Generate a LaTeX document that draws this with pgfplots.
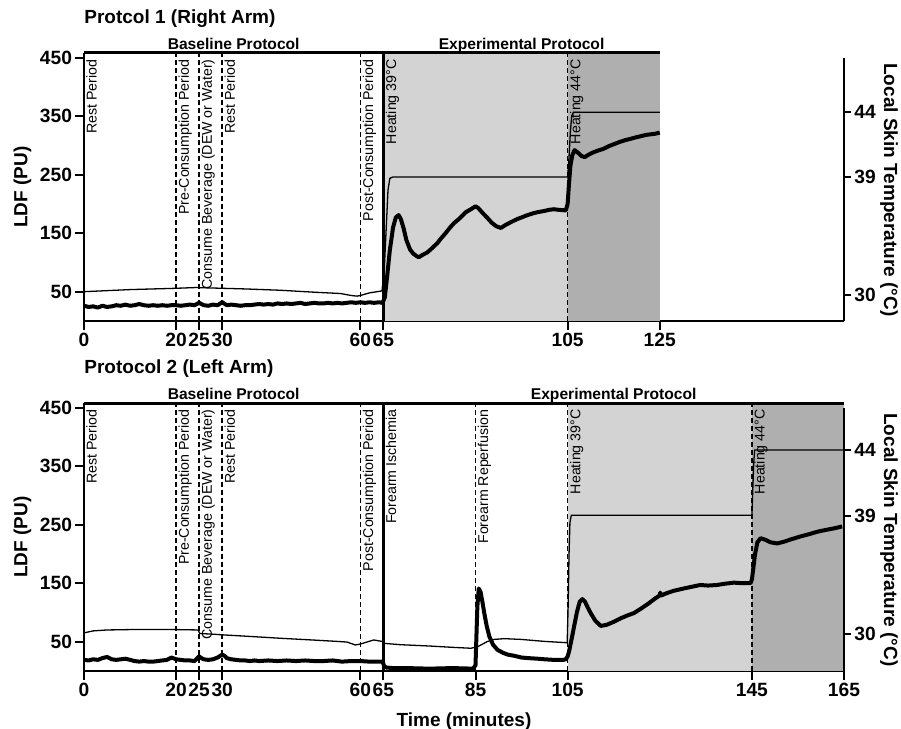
\documentclass[border=0pt]{standalone}
\usepackage{fontspec}
\setmainfont{Liberation Sans}
\usepackage{pgfplots}
\pgfplotsset{compat=1.18}
\definecolor{shadeA}{HTML}{D3D3D3}
\definecolor{shadeB}{HTML}{AFAFAF}

\pgfplotsset{
  ldfaxis/.style={
    scale only axis, width=380pt, height=134pt, anchor=south west,
    xmin=0, xmax=165, ymin=0, ymax=458,
    axis x line*=bottom, axis y line*=left,
    axis line style={-, line width=1pt},
    tick align=outside, major tick length=4.3pt,
    tick style={line width=1pt, black},
    ytick={50,150,250,350,450},
    ticklabel style={font=\fontsize{9.6}{11}\selectfont\bfseries, inner sep=1.5pt},
    /pgf/number format/assume math mode=true,
    clip=false,
  },
  tempaxis/.style={
    scale only axis, width=380pt, height=131.5pt, anchor=south west,
    xmin=0, xmax=165,
    axis x line=none, axis y line*=right,
    axis line style={-, line width=1pt},
    tick align=outside, major tick length=3.5pt,
    tick style={line width=1pt, black},
    ytick={30,39,44},
    ticklabel style={font=\fontsize{9.6}{11}\selectfont\bfseries, inner sep=1.5pt},
    /pgf/number format/assume math mode=true,
  },
}
\tikzset{
  ldfline/.style={line width=2pt, black, line join=round},
  templine/.style={line width=0.65pt, black},
  evline/.style={line width=0.7pt, dash pattern=on 2.5pt off 1.5pt},
  evlabel/.style={rotate=90, anchor=north east, inner sep=1pt, font=\fontsize{7.1}{8}\selectfont},
  seclabel/.style={anchor=base, inner sep=0pt, yshift=1.6pt, font=\fontsize{7.8}{9}\selectfont\bfseries},
}

\pgfplotstableread{
t ldf
0 26
1 24
2 25
3 23
4 26
5 24
6 25
7 27
8 26
9 28
10 26
11 27
12 29
13 27
14 26
15 27
16 26
17 27
18 26
19 27
20 27
21 26
22 27
23 28
24 27
25 31
26 27
27 26
28 28
29 27
30 32
31 27
32 28
33 27
34 26
35 27
36 27
37 28
38 29
39 28
40 29
41 28
42 30
43 29
44 30
45 29
46 30
47 31
48 29
49 30
50 31
51 30
52 30
53 31
54 30
55 31
56 30
57 31
58 32
59 31
60 32
61 31
62 32
63 31
64 32
64.8 31
65.3 40
65.8 75
66.4 121
67.1 160
67.7 177
68.3 181
68.8 174
69.4 158
70 138
70.8 122
71.5 115
72.2 111
72.7 109
73.5 113
74.5 117
75.5 124
76.7 133
77.5 141
78.5 150
79.5 160
80.3 167
81.5 175
82.9 186
84 191
85 196
85.6 193
86.5 185
87.6 176
88.5 168
89.5 162
90.5 159
91.5 164
92.7 169
94 174
95 177
96.3 181
97.5 184
98.5 186
99.9 188
101 190
102 191
103 190
104.6 189
105 200
105.3 235
105.6 265
106 283
106.5 292
107.2 288
108 282
108.7 280
109.5 284
110.5 288
111.5 291
112.7 294
114 299
115 302
116.3 306
117.5 309
118.5 311
119.9 314
121 316
122 318
123 319
124 320
125 322
}\ldfA

\pgfplotstableread{
t temp
0 30.24
5 30.32
10 30.4
15 30.45
20 30.5
24.5 30.56
25 30.55
30 30.5
35 30.45
42.6 30.35
50 30.2
55.7 30.1
58 29.95
59.3 29.9
60 29.95
62 30.15
64.7 30.3
65.2 32
65.6 35
66 38
66.4 38.9
67 39
105 39
105.3 40.5
105.6 42.5
105.9 43.7
106.3 43.95
125 43.95
}\tempA

\pgfplotstableread{
t ldf
0 19
1 18
2 20
3 19
4 22
5 24
6 20
7 19
8 20
9 21
10 19
11 17
12 16
13 17
14 16
15 16
16 17
17 18
18 19
19 23
20 20
21 19
22 18
23 18
24 17
25 25
25.5 22
26 20
27 19
28 20
29 23
30 28
30.5 26
31 22
32 20
33 19
34 18
35 18
36 17
37 18
38 17
40 18
42 17
44 18
46 17
48 18
50 17
52 17
54 18
56 16
58 17
60 17
62 16
64 16
64.8 16
65.2 8
65.6 6
67 5
70 5
75 4
80 5
84.5 4
85 10
85.2 60
85.4 110
85.7 141
86.1 135
86.5 118
86.9 99
87.4 78
88 59
88.8 45
89.8 36
91 31
92 28
93.4 26
95 23
96.5 22
98.5 21
100 20
102 19
104 19
104.6 20
105 25
105.3 33
105.8 52
106.4 76
107 100
107.6 118
108.2 123
108.8 118
109.4 108
110 99
111 86
112.2 77
113.5 79
115 84
116.5 90
118 95
119.4 99
121 107
122.5 115
124 124
125 129
125.1 134
125.3 129
126.5 133
128 137
130.2 141
132 144
133.8 147
135.5 146
137.4 147
139 149
141.1 151
143 150
144.7 150
145 156
145.3 175
145.7 200
146.2 220
146.9 227
148 224
149 220
150.5 218
152 221
153.5 225
155.6 230
157.5 234
159.2 238
161 241
163 244
164.6 247
}\ldfB

\pgfplotstableread{
t temp
0 30.1
2 30.25
5 30.32
10 30.35
15 30.35
20 30.35
24.8 30.32
25.1 30.05
28 30.0
30 29.95
35 29.85
42.6 29.69
50 29.55
55 29.45
57.1 29.4
58.9 29.18
60 29.25
62.9 29.56
64.7 29.45
65.2 29.3
68.7 29.2
75 29.1
80 29.0
84 28.93
85.5 29.05
87.5 29.43
89 29.6
91.2 29.66
95 29.6
100 29.45
104.9 29.35
105.1 32
105.3 36
105.5 38.5
105.8 39.05
145 39.05
145.2 41
145.4 43
145.6 44
165 44
}\tempB

\begin{document}
\begin{tikzpicture}
% ---------------- Protocol 1 ----------------
\begin{axis}[ldfaxis, at={(42pt,204pt)},
  xtick={0,20,25,30,60,65,105,125}]
  \addplot[draw=none, fill=shadeA] coordinates {(65,458) (105,458)} \closedcycle;
  \addplot[draw=none, fill=shadeB] coordinates {(105,458) (125,458)} \closedcycle;
  \addplot[evline] coordinates {(20,0) (20,458)};
  \addplot[evline] coordinates {(25,0) (25,458)};
  \addplot[evline] coordinates {(30,0) (30,458)};
  \addplot[evline] coordinates {(60,0) (60,458)};
  \addplot[evline] coordinates {(105,0) (105,458)};
  \addplot[line width=1.5pt] coordinates {(65,0) (65,458)};
  \addplot[line width=1.5pt] coordinates {(0,458) (125,458)};
  \addplot[ldfline] table[x=t, y=ldf] {\ldfA};
  \node[evlabel] at (axis cs:0,451) {Rest Period};
  \node[evlabel] at (axis cs:20,451) {Pre-Consumption Period};
  \node[evlabel] at (axis cs:25,451) {Consume Beverage (DEW or Water)};
  \node[evlabel] at (axis cs:30,451) {Rest Period};
  \node[evlabel] at (axis cs:60,451) {Post-Consumption Period};
  \node[evlabel] at (axis cs:65,451) {Heating 39°C};
  \node[evlabel] at (axis cs:105,451) {Heating 44°C};
  \node[seclabel] at (axis cs:32.5,458) {Baseline Protocol};
  \node[seclabel] at (axis cs:95,458) {Experimental Protocol};
\end{axis}
\begin{axis}[tempaxis, at={(42pt,204pt)}, ymin=28, ymax=48.1]
  \addplot[templine] table[x=t, y=temp] {\tempA};
\end{axis}

% ---------------- Protocol 2 ----------------
\begin{axis}[ldfaxis, at={(42pt,29pt)},
  xtick={0,20,25,30,60,65,85,105,145,165}]
  \addplot[draw=none, fill=shadeA] coordinates {(105,458) (145,458)} \closedcycle;
  \addplot[draw=none, fill=shadeB] coordinates {(145,458) (165,458)} \closedcycle;
  \addplot[evline] coordinates {(20,0) (20,458)};
  \addplot[evline] coordinates {(25,0) (25,458)};
  \addplot[evline] coordinates {(30,0) (30,458)};
  \addplot[evline] coordinates {(60,0) (60,458)};
  \addplot[evline] coordinates {(85,0) (85,458)};
  \addplot[evline] coordinates {(105,0) (105,458)};
  \addplot[evline] coordinates {(145,0) (145,458)};
  \addplot[line width=1.5pt] coordinates {(65,0) (65,458)};
  \addplot[line width=1.5pt] coordinates {(0,458) (165,458)};
  \addplot[ldfline] table[x=t, y=ldf] {\ldfB};
  \node[evlabel] at (axis cs:0,451) {Rest Period};
  \node[evlabel] at (axis cs:20,451) {Pre-Consumption Period};
  \node[evlabel] at (axis cs:25,451) {Consume Beverage (DEW or Water)};
  \node[evlabel] at (axis cs:30,451) {Rest Period};
  \node[evlabel] at (axis cs:60,451) {Post-Consumption Period};
  \node[evlabel] at (axis cs:65,451) {Forearm Ischemia};
  \node[evlabel] at (axis cs:85,451) {Forearm Reperfusion};
  \node[evlabel] at (axis cs:105,451) {Heating 39°C};
  \node[evlabel] at (axis cs:145,451) {Heating 44°C};
  \node[seclabel] at (axis cs:32.5,458) {Baseline Protocol};
  \node[seclabel] at (axis cs:115,458) {Experimental Protocol};
\end{axis}
\begin{axis}[tempaxis, at={(42pt,29pt)}, ymin=27.2, ymax=47.2]
  \addplot[templine] table[x=t, y=temp] {\tempB};
\end{axis}

% titles and axis names
\node[anchor=west, inner sep=0pt, font=\fontsize{9.5}{11}\selectfont\bfseries] at (42pt,355pt) {Protcol 1 (Right Arm)};
\node[anchor=west, inner sep=0pt, font=\fontsize{9.5}{11}\selectfont\bfseries] at (42pt,180pt) {Protocol 2 (Left Arm)};
\node[rotate=90, inner sep=0pt, font=\fontsize{9.5}{11}\selectfont\bfseries] at (11.25pt,271pt) {LDF (PU)};
\node[rotate=90, inner sep=0pt, font=\fontsize{9.5}{11}\selectfont\bfseries] at (11.25pt,96pt) {LDF (PU)};
\node[rotate=-90, inner sep=0pt, font=\fontsize{9.5}{11}\selectfont\bfseries] at (444.5pt,269.5pt) {Local Skin Temperature (°C)};
\node[rotate=-90, inner sep=0pt, font=\fontsize{9.5}{11}\selectfont\bfseries] at (444.5pt,94.5pt) {Local Skin Temperature (°C)};
\node[inner sep=0pt, font=\fontsize{9.5}{11}\selectfont\bfseries] at (232pt,3.5pt) {Time (minutes)};

\pgfresetboundingbox
\useasboundingbox (0,0) rectangle (450.5pt,364.5pt);
\end{tikzpicture}
\end{document}
